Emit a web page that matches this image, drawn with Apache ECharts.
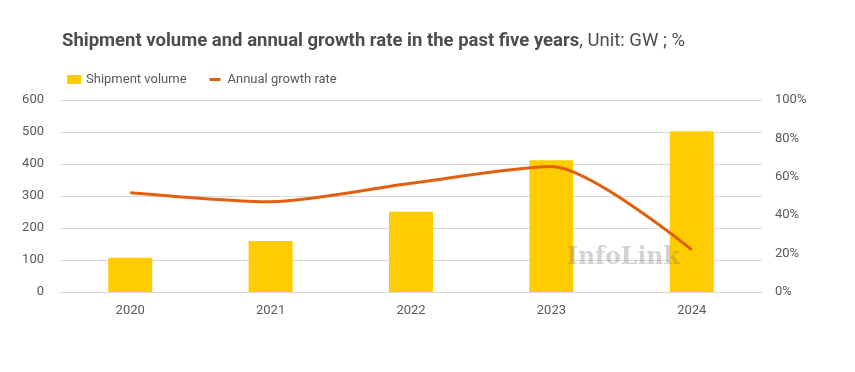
<!DOCTYPE html>
<html><head><meta charset="utf-8">
<script src="https://cdn.jsdelivr.net/npm/echarts@6/dist/echarts.min.js"></script>
<style>html,body{margin:0;padding:0;background:#fff}#c{width:855px;height:372px}</style>
</head><body><div id="c"></div>
<script>
var categories = ['2020', '2021', '2022', '2023', '2024'];
var shipmentVolume = [107, 159, 251, 412, 502];
var growthRate = [51.7, 47, 56.6, 65.3, 21.9];
var leftTicks = [0, 600, 100];
var rightTicks = [0, 100, 20];

var chart = echarts.init(document.getElementById('c'), null, {renderer: 'canvas'});
var txt = '#595959';
chart.setOption({
  animation: false,
  textStyle: {fontFamily: 'Roboto'},
  title: {
    left: 57, top: 27,
    text: '{b|Shipment volume and annual growth rate in the past five years}{n|, Unit: GW ; %}',
    textStyle: {
      rich: {
        b: {fontFamily: 'Roboto', fontWeight: 'bold', fontSize: 18.5, color: '#4d4d4d'},
        n: {fontFamily: 'Roboto', fontWeight: 'normal', fontSize: 18.5, color: '#4d4d4d'}
      }
    }
  },
  legend: {
    left: 62, top: 68, itemGap: 22, itemWidth: 14, itemHeight: 9,
    textStyle: {color: txt, fontSize: 13, fontFamily: 'Roboto'},
    data: [
      {name: 'Shipment volume', icon: 'rect'},
      {name: 'Annual growth rate', icon: 'path://M0,0 M1,3 L12,3 L12,6 L1,6 Z M14,9', itemStyle: {color: '#E35F0E'}}
    ]
  },
  grid: {left: 60, right: 93, top: 100, bottom: 80, containLabel: false},
  xAxis: {
    type: 'category', data: categories,
    axisLine: {lineStyle: {color: '#d9d9d9'}}, axisTick: {show: false},
    axisLabel: {color: txt, fontSize: 13, margin: 12}
  },
  yAxis: [{
    type: 'value', min: leftTicks[0], max: leftTicks[1], interval: leftTicks[2],
    axisLine: {show: false}, axisTick: {show: false},
    splitLine: {lineStyle: {color: '#d9d9d9'}},
    axisLabel: {color: txt, fontSize: 13, margin: 16}
  }, {
    type: 'value', min: rightTicks[0], max: rightTicks[1], interval: rightTicks[2],
    axisLine: {show: false}, axisTick: {show: false}, splitLine: {show: false},
    axisLabel: {color: txt, fontSize: 13, margin: 13, formatter: '{value}%'}
  }],
  series: [{
    name: 'Shipment volume', type: 'bar', data: shipmentVolume, barWidth: 44,
    itemStyle: {color: '#FFCC00'}
  }, {
    name: 'Annual growth rate', type: 'line', yAxisIndex: 1, data: growthRate,
    smooth: 0.25, symbol: 'none', lineStyle: {color: '#E35F0E', width: 3}, itemStyle: {color: '#E35F0E'}
  }],
  graphic: [{
    type: 'text', left: 567, top: 246, z: 100,
    style: {text: 'InfoLink', font: 'bold 23.5px "DejaVu Serif"', fill: 'rgba(110,110,110,0.3)'}
  }]
});
</script></body></html>
